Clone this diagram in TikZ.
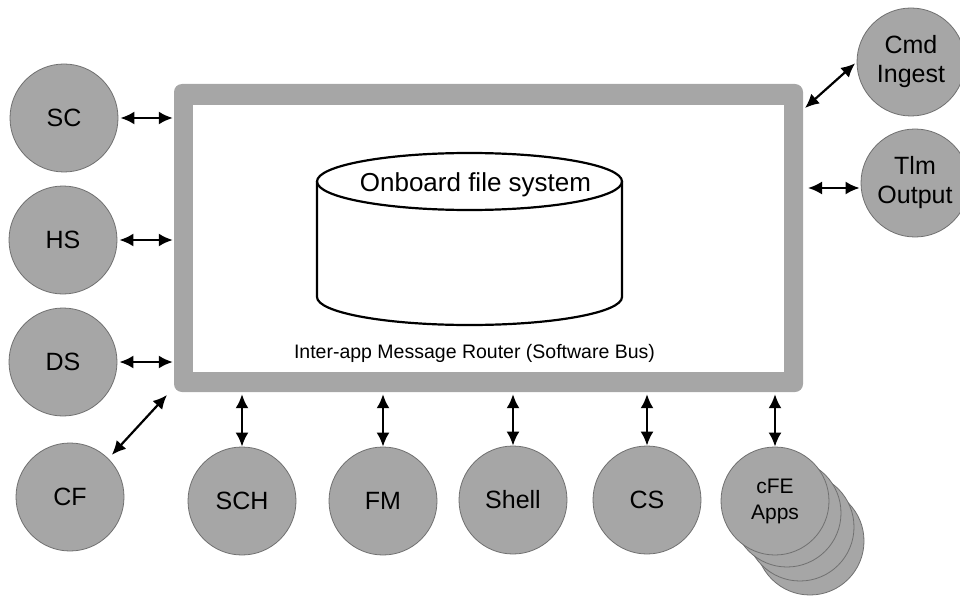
\documentclass[tikz,border=0pt]{standalone}
\usepackage{fontspec}
\setmainfont{Liberation Sans}
\usetikzlibrary{arrows.meta}
\definecolor{cgray}{HTML}{A6A6A6}
\definecolor{cedge}{HTML}{707070}
\begin{document}
\begin{tikzpicture}[x=1pt,y=-1pt,
  app/.style={circle,fill=cgray,draw=cedge,line width=0.8pt,minimum size=108pt,inner sep=0pt,align=center,font=\fontsize{25}{29}\selectfont},
  link/.style={line width=2.2pt,{Latex[length=14pt,width=13pt]}-{Latex[length=14pt,width=13pt]}},
  cyl/.style={line width=2.2pt},
]
\useasboundingbox (0,0) rectangle (960,596);
% bus frame
\node[fill=cgray,rounded corners=8pt,minimum width=629pt,minimum height=308pt,inner sep=0pt] (bus) at (488.5,238) {};
\node[fill=white,minimum width=591pt,minimum height=267pt,inner sep=0pt] (inner) at (488.5,238.5) {};
% cylinder
\draw[cyl,fill=white] (317,181.5) -- (317,297) arc[start angle=180,end angle=0,x radius=152.5,y radius=28] -- (622,181.5);
\draw[cyl] (469.5,181.5) ellipse [x radius=152.5,y radius=28.5];
\node[anchor=base,font=\fontsize{26}{30}\selectfont,inner sep=0pt] (fs) at (475.5,192) {Onboard file system};
\node[anchor=base,font=\fontsize{19.5}{23}\selectfont,inner sep=0pt] (busl) at (474.5,358) {Inter-app Message Router (Software Bus)};
% circles
\node[app] (sc) at (64,118) {SC};
\node[app] (hs) at (63,240) {HS};
\node[app] (ds) at (63,362) {DS};
\node[app] (cf) at (70,497) {CF};
\node[app] (sch) at (242,501) {SCH};
\node[app] (fm) at (383,501) {FM};
\node[app] (shell) at (513,500) {Shell};
\node[app] (cs) at (647,500) {CS};
\node[app] (apps3) at (810,541) {};
\node[app] (apps2) at (800,527) {};
\node[app] (apps1) at (787,513) {};
\node[app,font=\fontsize{21}{26}\selectfont] (apps) at (775,501) {cFE\\Apps};
\node[app] (cmd) at (911,62) {Cmd\\Ingest};
\node[app] (tlm) at (915,183) {Tlm\\Output};
% connectors
\draw[link,shorten <=2pt,shorten >=1pt] (sc.east) -- (sc.east -| bus.west);
\draw[link,shorten <=2pt,shorten >=1pt] (hs.east) -- (hs.east -| bus.west);
\draw[link,shorten <=2pt,shorten >=1pt] (ds.east) -- (ds.east -| bus.west);
\coordinate (cfA) at (167,395);
\draw[link,shorten <=5pt] (cf.45) -- (cfA);
\foreach \n in {sch,fm,shell,cs,apps}{
  \draw[link,shorten <=2pt] (\n.north |- bus.south) -- (\n.north);
}
\coordinate (cmdA) at (805,108);
\draw[link,shorten >=2pt] (cmdA) -- (cmd.west);
\coordinate (tlmA) at (808,188);
\draw[link,shorten >=1pt] (tlmA) -- (tlmA -| tlm.west);
\end{tikzpicture}
\end{document}
